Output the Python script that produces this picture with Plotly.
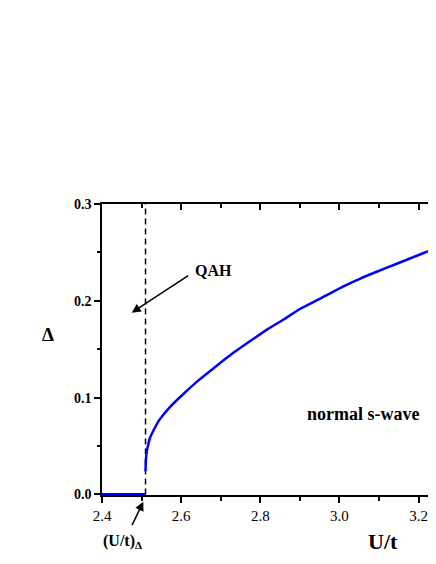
import plotly.graph_objects as go

# Data
u_zero = [2.40, 2.51]
delta_zero = [0.0, 0.0]

u_curve = [2.510, 2.511, 2.513, 2.516, 2.520, 2.530, 2.545, 2.571, 2.605, 2.643,
           2.690, 2.731, 2.780, 2.816, 2.860, 2.900, 2.950, 3.010, 3.050, 3.094,
           3.140, 3.178, 3.244, 3.300]
delta_curve = [0.024, 0.036, 0.044, 0.050, 0.057, 0.066, 0.077, 0.090, 0.1035, 0.1175,
               0.133, 0.146, 0.160, 0.170, 0.181, 0.1915, 0.202, 0.215, 0.2225, 0.230,
               0.2375, 0.2437, 0.2545, 0.263]

u_crit = [2.51, 2.51]
delta_crit = [0.0, 0.3]

x_range = [2.4, 3.244]
y_range = [-0.0006, 0.3]

SERIF = "Liberation Serif"

fig = go.Figure()
fig.add_trace(go.Scatter(x=u_crit, y=delta_crit, mode="lines",
                         line=dict(color="black", width=1.5, dash="6px,4px"),
                         hoverinfo="skip", showlegend=False))
fig.add_trace(go.Scatter(x=u_zero, y=delta_zero, mode="lines",
                         line=dict(color="#0000ff", width=3),
                         showlegend=False))
fig.add_trace(go.Scatter(x=u_curve, y=delta_curve, mode="lines",
                         line=dict(color="#0000ff", width=2.5, shape="spline", smoothing=0.5),
                         showlegend=False))
# invisible trace for the top axis
fig.add_trace(go.Scatter(x=x_range, y=[None, None], xaxis="x2", mode="lines",
                         showlegend=False, hoverinfo="skip"))

fig.update_layout(
    width=428, height=556,
    margin=dict(l=94, r=0, t=196, b=69, autoexpand=False),
    plot_bgcolor="white", paper_bgcolor="white",
    font=dict(family=SERIF, color="black"),
    xaxis=dict(range=x_range, showgrid=False, zeroline=False,
               showline=True, linecolor="black", linewidth=1.5,
               ticks="outside", ticklen=6, tickwidth=1.5, tickcolor="black",
               tick0=2.4, dtick=0.2, tickformat=".1f",
               tickfont=dict(family=SERIF, size=15, color="black"),
               minor=dict(ticks="outside", ticklen=4, tickwidth=1.5, dtick=0.1,
                          tick0=2.4, tickcolor="black", showgrid=False)),
    xaxis2=dict(range=x_range, overlaying="x", side="top", showgrid=False,
                zeroline=False, showline=True, linecolor="black", linewidth=1.5,
                ticks="inside", ticklen=6, tickwidth=1.5, tickcolor="black",
                tick0=2.4, dtick=0.2, showticklabels=False,
                minor=dict(ticks="inside", ticklen=4, tickwidth=1.5, dtick=0.1,
                           tick0=2.4, tickcolor="black", showgrid=False)),
    yaxis=dict(range=y_range, showgrid=False, zeroline=False,
               showline=True, linecolor="black", linewidth=1.5,
               ticks="outside", ticklen=6, tickwidth=1.5, tickcolor="black",
               tickvals=[0.0, 0.1, 0.2, 0.3],
               ticktext=["<b>0.0</b>", "<b>0.1</b>", "<b>0.2</b>", "<b>0.3</b>"],
               tickfont=dict(family=SERIF, size=14, color="black"),
               minor=dict(ticks="outside", ticklen=3, tickwidth=1.5,
                          tickvals=[0.05, 0.15, 0.25], tickcolor="black", showgrid=False)),
)

def label(text, x, y, size):
    return dict(text=text, x=x, y=y, xref="paper", yref="paper", showarrow=False,
                xanchor="center", yanchor="middle", font=dict(size=size))

def arrow(x, y, ax, ay):
    return dict(text="", x=x, y=y, ax=ax, ay=ay, xref="paper", yref="paper",
                showarrow=True, arrowhead=2, arrowsize=1.2,
                arrowwidth=1.5, arrowcolor="black")

annotations = [
    label("<b>Δ</b>", -0.1626, 0.55, 19),
    label("<b>QAH</b>", 0.334, 0.773, 16),
    arrow(0.0889, 0.6265, 58, -38),
    label("<b>normal s-wave</b>", 0.781, 0.278, 18),
    label("<b>(U/t)</b><sub><b>Δ</b></sub>", 0.062, -0.16, 16),
    arrow(0.1237, -0.023, -12, 25),
    label("<b>U/t</b>", 0.841, -0.1615, 22),
]
fig.update_layout(annotations=annotations)

fig.write_html("out.html")
